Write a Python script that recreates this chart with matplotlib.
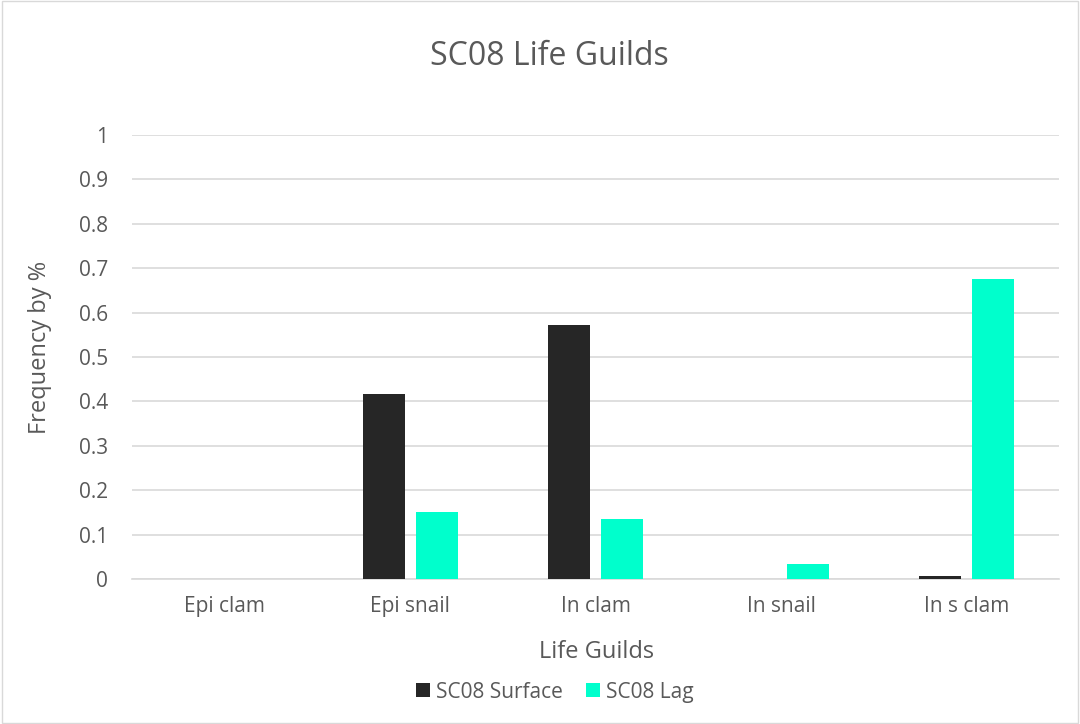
import matplotlib.pyplot as plt
import numpy as np
from matplotlib.patches import Rectangle

plt.rcParams['font.family'] = ['Open Sans', 'DejaVu Sans']

categories = ['Epi clam', 'Epi snail', 'In clam', 'In snail', 'In s clam']
surface = [0.0, 0.417, 0.572, 0.0, 0.007]
lag = [0.0, 0.152, 0.134, 0.033, 0.675]
series_names = ['SC08 Surface', 'SC08 Lag']
colors = ['#262626', '#00FFCC']
grey = '#595959'

fig = plt.figure(figsize=(10.8, 7.24), dpi=100)
# plot area: x 132..1060 px, y 135..579 px
ax = fig.add_axes([0.122, 0.2003, 0.859, 0.6132])

x = np.arange(len(categories))
w = 0.226
ax.bar(x - 0.143, surface, w, color=colors[0], label=series_names[0], zorder=3)
ax.bar(x + 0.143, lag, w, color=colors[1], label=series_names[1], zorder=3)

ax.set_xlim(-0.5, len(categories) - 0.5)
ax.set_ylim(0, 1)
ax.set_yticks(np.arange(0, 1.01, 0.1))
ax.set_yticklabels(['0', '0.1', '0.2', '0.3', '0.4', '0.5', '0.6', '0.7', '0.8', '0.9', '1'])
ax.set_xticks(x)
ax.set_xticklabels(categories)
ax.grid(axis='y', color='#d9d9d9', linewidth=1.2, zorder=0)
for s in ['top', 'right', 'left']:
    ax.spines[s].set_visible(False)
ax.spines['bottom'].set_color('#d9d9d9')
ax.spines['bottom'].set_linewidth(1.2)
ax.tick_params(axis='both', length=0, colors=grey, labelsize=15)
ax.tick_params(axis='y', pad=17)
ax.tick_params(axis='x', pad=12)

# axis titles and chart title
fig.text(0.552, 0.1, 'Life Guilds', ha='center', va='center', fontsize=17, color=grey)
fig.text(0.037, 0.52, 'Frequency by %', ha='center', va='center', rotation=90,
         fontsize=17, color=grey)
fig.text(0.509, 0.922, 'SC08 Life Guilds', ha='center', va='center', fontsize=23, color=grey)

fig.legend(loc='center', bbox_to_anchor=(0.514, 0.044), ncol=2, frameon=False,
           fontsize=15, labelcolor=grey, handlelength=0.67, handleheight=0.67,
           handletextpad=0.3, columnspacing=1.1)

fig.patches.append(Rectangle((0.002, 0.002), 0.996, 0.996, transform=fig.transFigure,
                             fill=False, edgecolor='#d9d9d9', linewidth=1))

fig.savefig('out.png', dpi=100)
